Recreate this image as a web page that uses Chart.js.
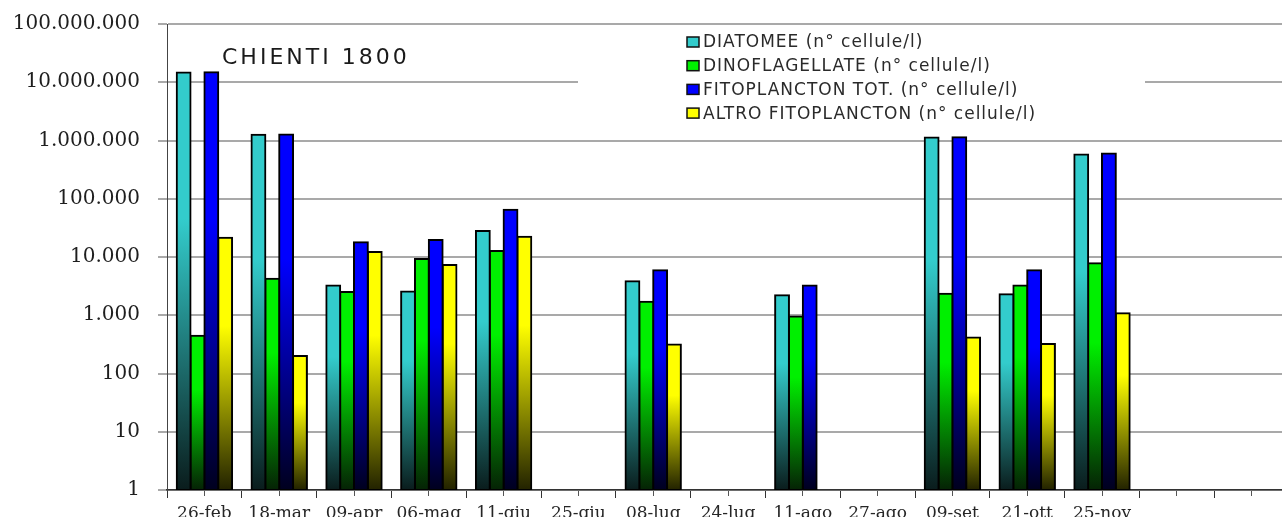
<!DOCTYPE html>
<html>
<head>
<meta charset="utf-8">
<script src="https://cdn.jsdelivr.net/npm/chart.js@4.4.1/dist/chart.umd.min.js"></script>
<style>
  html, body { margin: 0; padding: 0; background: #fff; overflow: hidden; }
  #wrap { position: absolute; left: 0; top: 0; width: 1296px; height: 517px; }
</style>
</head>
<body>
<div id="wrap"><canvas id="chart"></canvas></div>
<script>
// categorie (date di campionamento) - le ultime due sono vuote come nell'originale
const dates = ['26-feb', '18-mar', '09-apr', '06-mag', '11-giu', '25-giu', '08-lug', '24-lug', '11-ago', '27-ago', '09-set', '21-ott', '25-nov', '', ''];

// n° cellule/l
const diatomee       = [14700000, 1260000, 3250, 2550, 28000, null, 3850, null, 2200, null, 1130000, 2300, 575000, null, null];
const dinoflagellate = [445, 4250, 2500, 9200, 12700, null, 1700, null, 950, null, 2350, 3250, 7800, null, null];
const fitoTot        = [14800000, 1270000, 18000, 19600, 65000, null, 5900, null, 3250, null, 1140000, 5900, 600000, null, null];
const altroFito      = [21500, 200, 12200, 7300, 22300, null, 315, null, null, null, 415, 320, 1080, null, null];

const yTicks = [1, 10, 100, 1000, 10000, 100000, 1000000, 10000000, 100000000];

const chartTitle = 'CHIENTI 1800';

function fmt(v) {
    return String(v).replace(/\B(?=(\d{3})+(?!\d))/g, '.');
}

// gradiente verticale per ogni barra: colore pieno in alto, scuro alla base
function barGradient(light, dark) {
    return (ctx) => {
        const chart = ctx.chart;
        const area = chart.chartArea;
        const v = ctx.raw;
        if (!area || v == null || ctx.type !== 'data') return light;
        const yTop = chart.scales.y.getPixelForValue(v);
        const g = chart.ctx.createLinearGradient(0, yTop, 0, area.bottom);
        g.addColorStop(0, light);
        g.addColorStop(0.35, light);
        g.addColorStop(1, dark);
        return g;
    };
}

const series = [
    { label: 'DIATOMEE (n° cellule/l)', data: diatomee, light: '#33cccc', dark: '#0a1c1c' },
    { label: 'DINOFLAGELLATE (n° cellule/l)', data: dinoflagellate, light: '#00f000', dark: '#052205' },
    { label: 'FITOPLANCTON TOT. (n° cellule/l)', data: fitoTot, light: '#0000ff', dark: '#00001e' },
    { label: 'ALTRO FITOPLANCTON (n° cellule/l)', data: altroFito, light: '#ffff00', dark: '#222200' }
];

// riquadro legenda + titolo disegnati dentro l'area del grafico
const overlayPlugin = {
    id: 'overlay',
    beforeDatasetsDraw(chart) {
        const c = chart.ctx;
        c.save();
        c.fillStyle = '#fff';
        c.fillRect(578, 30, 567, 100);
        c.restore();
    },
    afterDraw(chart) {
        const c = chart.ctx;
        c.save();
        // titolo
        c.font = '22px "DejaVu Sans"';
        c.fillStyle = '#1a1a1a';
        c.textBaseline = 'alphabetic';
        c.letterSpacing = '3px';
        c.fillText(chartTitle, 222, 64);
        // legenda
        c.font = '17px "DejaVu Sans"';
        c.letterSpacing = '1px';
        c.textBaseline = 'middle';
        chart.data.datasets.forEach((ds, i) => {
            const y = 42 + i * 23.7;
            c.fillStyle = ds.legendColor;
            c.fillRect(687, y - 5, 12, 10);
            c.strokeStyle = '#111';
            c.lineWidth = 1.5;
            c.strokeRect(687, y - 5, 12, 10);
            c.fillStyle = '#2a2a2a';
            c.fillText(ds.label, 703, y + 1);
        });
        c.letterSpacing = '0px';
        c.restore();
    }
};

new Chart(document.getElementById('chart'), {
    type: 'bar',
    data: {
        labels: dates,
        datasets: series.map(s => ({
            label: s.label,
            data: s.data,
            legendColor: s.light,
            backgroundColor: barGradient(s.light, s.dark),
            borderColor: '#000',
            borderWidth: 2,
            borderSkipped: false,
            inflateAmount: 1,
            categoryPercentage: 0.74,
            barPercentage: 1.0
        }))
    },
    options: {
        responsive: true,
        maintainAspectRatio: false,
        animation: false,
        layout: { autoPadding: false, padding: { left: 0, top: 24, right: 7, bottom: 0 } },
        plugins: {
            legend: { display: false },
            title: { display: false },
            tooltip: { enabled: false }
        },
        scales: {
            x: {
                weight: 1,
                offset: true,
                grid: { offset: true, drawOnChartArea: false, tickLength: 8, tickColor: '#333', lineWidth: 1 },
                border: { color: '#333', width: 1.5 },
                ticks: { color: '#262626', font: { family: '"DejaVu Serif"', size: 17 }, padding: 5, maxRotation: 0, autoSkip: false },
                afterFit: (s) => { s.height = 27; }
            },
            x2: {
                type: 'category',
                position: 'bottom',
                weight: 0,
                labels: dates,
                offset: true,
                grid: { offset: false, drawOnChartArea: false, tickLength: 6, tickColor: '#555', lineWidth: 1 },
                border: { display: false },
                ticks: { display: false },
                afterFit: (s) => { s.height = 0; }
            },
            y: {
                type: 'logarithmic',
                min: 1,
                max: 100000000,
                afterBuildTicks: (s) => { s.ticks = yTicks.map(v => ({ value: v })); },
                grid: { color: '#a9a9a9', lineWidth: 2, tickLength: 9 },
                border: { color: '#444', width: 1 },
                ticks: {
                    color: '#1e1e1e',
                    font: { family: '"DejaVu Serif"', size: 20 },
                    padding: 18,
                    callback: (v) => fmt(v)
                },
                afterFit: (s) => { s.width = 167; s.paddingTop = 0; s.paddingBottom = 0; }
            }
        }
    },
    plugins: [overlayPlugin]
});
</script>
</body>
</html>
